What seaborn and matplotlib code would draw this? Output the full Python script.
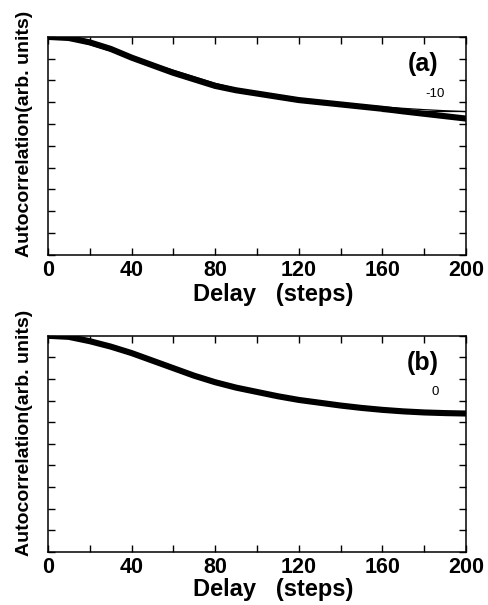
import numpy as np
import pandas as pd
import matplotlib
matplotlib.use("Agg")
import matplotlib.pyplot as plt
import seaborn as sns

# Delay values (steps)
delay = [0, 10, 20, 30, 40, 50, 60, 70, 80, 90, 100, 110, 120, 130, 140,
         150, 160, 170, 180, 190, 200]

# panel (a): measured curve (thick) and fit (thin)
auto_a = [1.0, 0.995, 0.975, 0.945, 0.905, 0.87, 0.835, 0.805, 0.775, 0.755,
          0.74, 0.725, 0.71, 0.70, 0.69, 0.68, 0.67, 0.658, 0.647, 0.636, 0.625]
fit_a = [1.0, 0.99, 0.965, 0.935, 0.905, 0.877, 0.847, 0.817, 0.787, 0.763,
         0.746, 0.731, 0.718, 0.706, 0.696, 0.687, 0.679, 0.672, 0.666, 0.661, 0.657]
base_x = [160, 200]
base_a = [0.66, 0.66]

# panel (b)
auto_b = [1.0, 0.995, 0.975, 0.95, 0.92, 0.885, 0.85, 0.815, 0.785, 0.76,
          0.74, 0.72, 0.703, 0.69, 0.677, 0.666, 0.657, 0.65, 0.645, 0.642, 0.64]

panels = [("(a)", "-10", auto_a, 0.555, -0.128), ("(b)", "0", auto_b, 0.55, -0.122)]

sns.set_style("ticks")
plt.rcParams['font.family'] = ['Liberation Sans', 'DejaVu Sans']
plt.rcParams['font.weight'] = 'bold'
plt.rcParams['text.color'] = 'black'
plt.rcParams['axes.labelcolor'] = 'black'
plt.rcParams['xtick.color'] = 'black'
plt.rcParams['ytick.color'] = 'black'
plt.rcParams['axes.edgecolor'] = 'black'

fig = plt.figure(figsize=(4.89, 6.05), dpi=100)
ax_a = fig.add_axes([0.098, 0.579, 0.855, 0.360])
ax_b = fig.add_axes([0.098, 0.088, 0.855, 0.357])

for ax, (tag, val, y, ylab_pos, xlab_pos) in zip([ax_a, ax_b], panels):
    df = pd.DataFrame({"delay": delay, "auto": y})
    sns.lineplot(data=df, x="delay", y="auto", ax=ax, color="black", lw=4.4)
    if tag == "(a)":
        sns.lineplot(x=delay, y=fit_a, ax=ax, color="black", lw=0.9)
        sns.lineplot(x=base_x, y=base_a, ax=ax, color="black", lw=0.9)
    ax.set_xlim(0, 200)
    ax.set_ylim(0, 1.0)
    ax.set_xticks([0, 40, 80, 120, 160, 200])
    ax.set_xticks([20, 60, 100, 140, 180], minor=True)
    ax.set_yticks(np.arange(0, 1.01, 0.1))
    ax.set_yticklabels([])
    ax.tick_params(which="both", direction="in", top=True, right=True,
                   length=5, width=1)
    ax.tick_params(axis="x", labelsize=15.5, pad=4)
    for lab in ax.get_xticklabels():
        lab.set_fontweight("bold")
    for s in ax.spines.values():
        s.set_linewidth(1.1)
    ax.set_xlabel("Delay   (steps)", fontsize=17, fontweight="bold", labelpad=0)
    ax.xaxis.set_label_coords(0.538, xlab_pos)
    ax.set_ylabel("Autocorrelation(arb. units)", fontsize=14, fontweight="bold")
    ax.yaxis.set_label_coords(-0.035, ylab_pos)
    ax.text(0.897, 0.876, tag, transform=ax.transAxes, fontsize=18,
            fontweight="bold", ha="center", va="center")
    ax.text(0.926, 0.74, val, transform=ax.transAxes, fontsize=9.5,
            fontweight="normal", ha="center", va="center")

fig.savefig("out.png", dpi=100)
